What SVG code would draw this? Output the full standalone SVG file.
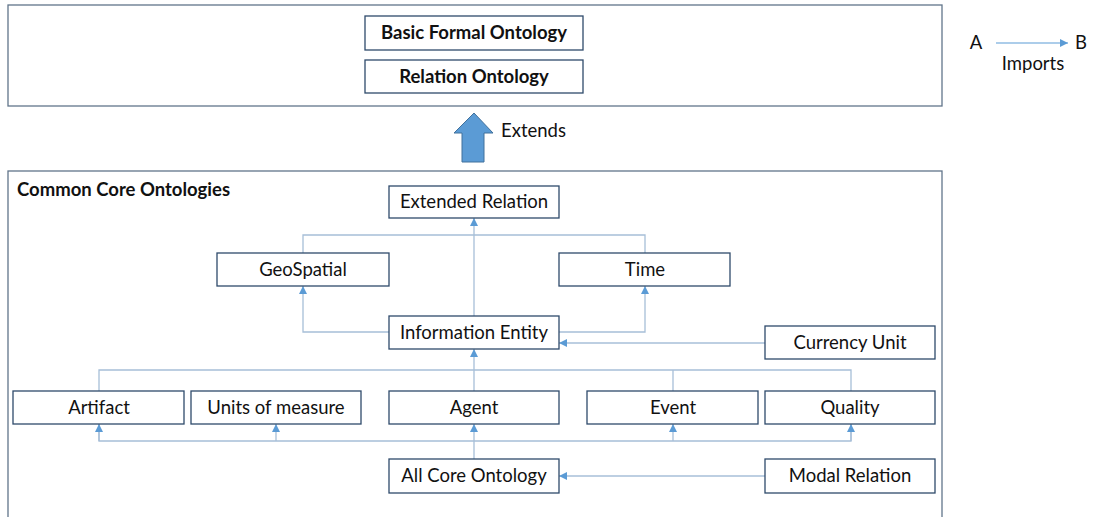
<svg xmlns="http://www.w3.org/2000/svg" width="1094" height="517" viewBox="0 0 1094 517">
<style>
  .frame{fill:#fff;stroke:#61758A;stroke-width:1.3}
  .node rect{fill:#fff;stroke:#2E4A6B;stroke-width:1.3}
  .node text,.lbl{font-family:Lato,"Open Sans",sans-serif;font-size:18.5px;fill:#111;text-anchor:middle}
  .b{font-weight:bold}
  .c{fill:none;stroke:#A7BFD8;stroke-width:1.3}
</style>
<defs>
  <marker id="ah" viewBox="0 0 10 10" refX="10" refY="5" markerWidth="8" markerHeight="8" markerUnits="userSpaceOnUse" orient="auto">
    <path d="M0,0 L10,5 L0,10 z" fill="#5B9BD5"/>
  </marker>
</defs>
<rect width="1094" height="517" fill="#fff"/>
<rect class="frame" x="8" y="5" width="934" height="101"/>
<rect class="frame" x="8" y="171" width="934" height="360"/>
<text class="lbl b" x="17" y="196" style="text-anchor:start">Common Core Ontologies</text>

<g id="extends">
  <path d="M474,113 L493,133 L484,133 L484,162 L462,162 L462,133 L454,133 Z" fill="#5B9BD5" stroke="#41719C" stroke-width="1"/>
  <text class="lbl" x="501" y="137" style="text-anchor:start">Extends</text>
</g>

<g id="legend">
  <text class="lbl" x="976" y="49">A</text>
  <line x1="996" y1="43" x2="1068" y2="43" stroke="#5B9BD5" stroke-width="1.2" marker-end="url(#ah)"/>
  <text class="lbl" x="1081" y="49">B</text>
  <text class="lbl" x="1033" y="70">Imports</text>
</g>

<g id="connectors">
  <path class="c" d="M474,316 L474,218" marker-end="url(#ah)"/>
  <path class="c" d="M303,253 L303,235 L645,235 L645,253"/>
  <path class="c" d="M389,332 L303,332 L303,286" marker-end="url(#ah)"/>
  <path class="c" d="M559,332 L645,332 L645,286" marker-end="url(#ah)"/>
  <path class="c" d="M765,343 L559,343" marker-end="url(#ah)"/>
  <path class="c" d="M474,391 L474,349" marker-end="url(#ah)"/>
  <path class="c" d="M99,391 L99,370 L851,370 L851,391"/>
  <path class="c" d="M673,370 L673,391"/>
  <path class="c" d="M474,459 L474,424" marker-end="url(#ah)"/>
  <path class="c" d="M99,424 L99,441 L851,441 L851,424"/>
  <path class="c" d="M99,441 L99,424" marker-end="url(#ah)"/>
  <path class="c" d="M276,441 L276,424" marker-end="url(#ah)"/>
  <path class="c" d="M673,441 L673,424" marker-end="url(#ah)"/>
  <path class="c" d="M851,441 L851,424" marker-end="url(#ah)"/>
  <path class="c" d="M765,476 L559,476" marker-end="url(#ah)"/>
</g>

<g id="bfo" class="node"><rect x="365" y="16" width="218" height="34"/><text class="b" x="474" y="39">Basic Formal Ontology</text></g>
<g id="ro" class="node"><rect x="365" y="60" width="218" height="33"/><text class="b" x="474" y="83">Relation Ontology</text></g>

<g id="extended-relation" class="node"><rect x="389" y="186" width="170" height="32"/><text x="474" y="208">Extended Relation</text></g>
<g id="geospatial" class="node"><rect x="217" y="253" width="172" height="33"/><text x="303" y="276">GeoSpatial</text></g>
<g id="time" class="node"><rect x="559" y="253" width="171" height="33"/><text x="645" y="276">Time</text></g>
<g id="information-entity" class="node"><rect x="389" y="316" width="170" height="33"/><text x="474" y="339">Information Entity</text></g>
<g id="currency-unit" class="node"><rect x="765" y="326" width="170" height="33"/><text x="850" y="349">Currency Unit</text></g>
<g id="artifact" class="node"><rect x="13" y="391" width="171" height="33"/><text x="99" y="414">Artifact</text></g>
<g id="units" class="node"><rect x="191" y="391" width="170" height="33"/><text x="276" y="414">Units of measure</text></g>
<g id="agent" class="node"><rect x="389" y="391" width="170" height="33"/><text x="474" y="414">Agent</text></g>
<g id="event" class="node"><rect x="587" y="391" width="171" height="33"/><text x="673" y="414">Event</text></g>
<g id="quality" class="node"><rect x="765" y="391" width="170" height="33"/><text x="850" y="414">Quality</text></g>
<g id="all-core" class="node"><rect x="389" y="459" width="170" height="34"/><text x="474" y="482">All Core Ontology</text></g>
<g id="modal-relation" class="node"><rect x="765" y="459" width="170" height="34"/><text x="850" y="482">Modal Relation</text></g>
</svg>
